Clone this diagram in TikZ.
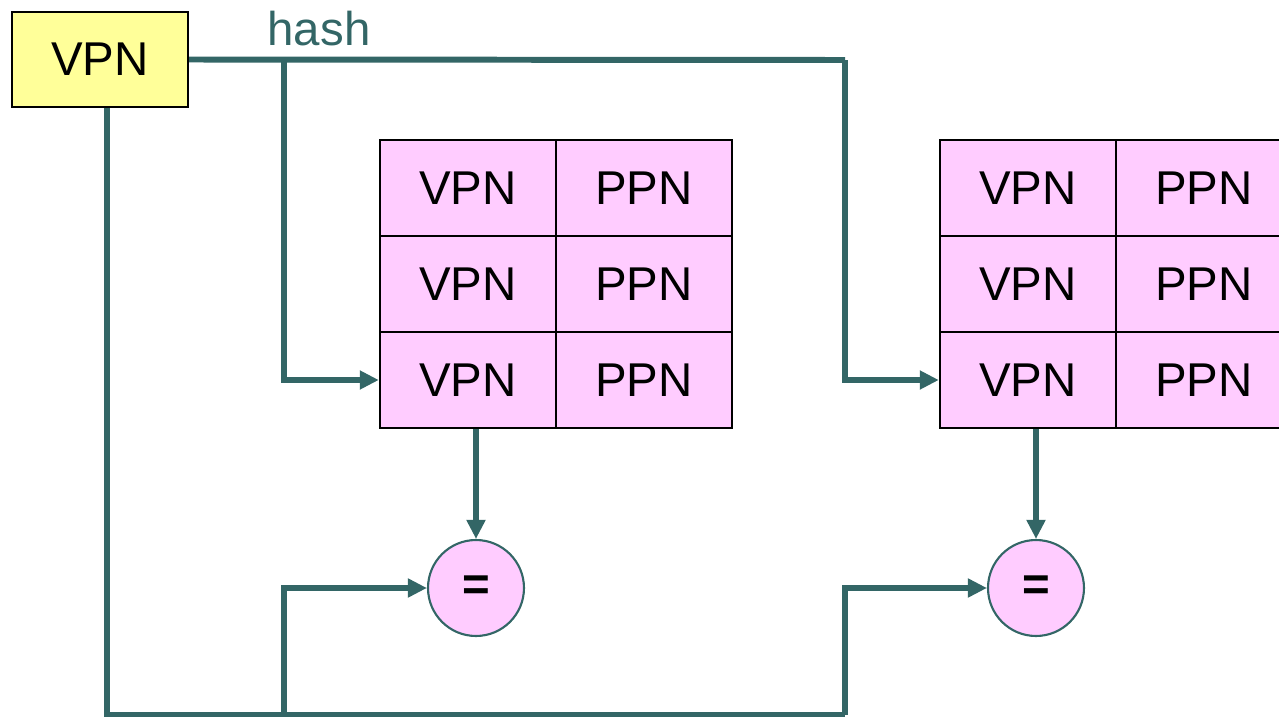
\documentclass[tikz,border=0pt]{standalone}
\usepackage{fontspec}
\setmainfont{Liberation Sans}
\usetikzlibrary{arrows.meta,positioning}
\definecolor{cLine}{HTML}{336666}
\definecolor{cKey}{HTML}{FFFF99}
\definecolor{cEntry}{HTML}{FFCCFF}
\tikzset{
  keybox/.style={draw=black, line width=1.4pt, fill=cKey, minimum width=3.52cm,
                 minimum height=1.9cm, inner sep=0pt, font=\fontsize{27}{30}\selectfont},
  cell/.style={draw=black, line width=1.4pt, fill=cEntry, minimum width=3.52cm,
               minimum height=1.92cm, inner sep=0pt, font=\fontsize{27}{30}\selectfont},
  cmp/.style={circle, draw=cLine, line width=1.2pt, fill=cEntry, minimum size=1.92cm,
              inner sep=0pt, font=\bfseries\fontsize{27}{30}\selectfont},
  wire/.style={cLine, line width=3.4pt},
  arr/.style={wire, -{Triangle[length=3.8mm, width=3.6mm]}},
  lbl/.style={text=cLine, font=\fontsize{27}{30}\selectfont}
}

\begin{document}
\begin{tikzpicture}[x=0.02cm, y=-0.02cm]
\useasboundingbox (0,0) rectangle (1279,717);
% key
\node[keybox] (vpn) at (100,59.5) {VPN};
\node[lbl] (hash) at (319,29) {hash};
% two ways of entries
\foreach \t/\x in {1/380, 2/940}
  \foreach \r/\y in {1/188, 2/284, 3/380} {
    \node[cell] (t\t v\r) at (\x+88,\y) {VPN};
    \node[cell] (t\t p\r) at (\x+264,\y) {PPN};
  }
% comparators
\node[cmp] (eq1) at (476,588) {=};
\node[cmp] (eq2) at (1036,588) {=};
% taps
\coordinate (hashL) at (284,60);
\coordinate (hashR) at (845,60);
\coordinate (keyBot) at (107,715);
\coordinate (cmpL) at (284,715);
\coordinate (cmpR) at (845,715);
% hash wires
\draw[wire] (vpn.east) -- (hashR);
\draw[arr] (hashL) |- (t1v3.west);
\draw[arr] (hashR) |- (t2v3.west);
% tag wires
\draw[wire] (vpn.south -| keyBot) -- (keyBot) -- (cmpR);
\draw[arr] (cmpL) |- (eq1.west);
\draw[arr] (cmpR) |- (eq2.west);
% entries to comparators
\draw[arr] (t1v3.south -| eq1.north) -- (eq1.north);
\draw[arr] (t2v3.south -| eq2.north) -- (eq2.north);
\end{tikzpicture}
\end{document}
